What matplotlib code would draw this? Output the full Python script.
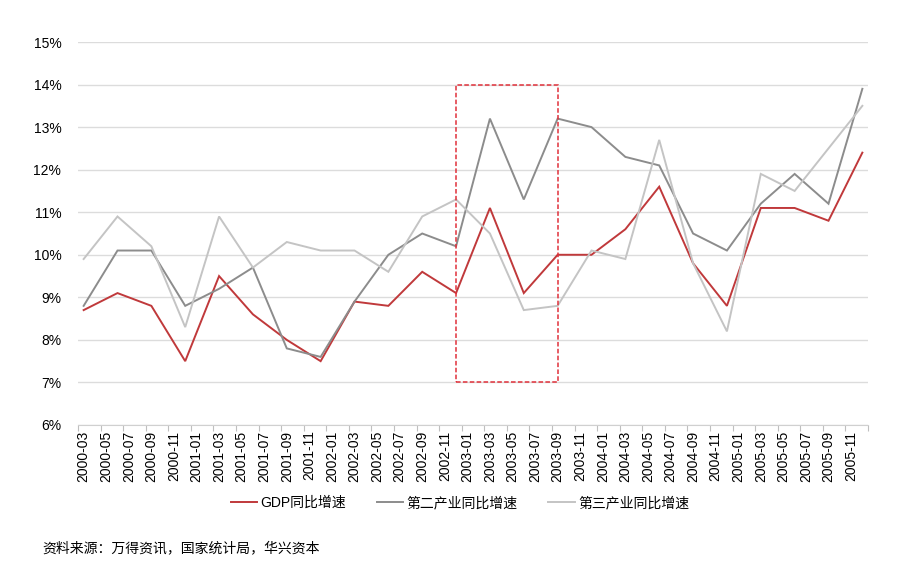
import numpy as np
import pandas as pd
import matplotlib
matplotlib.use("Agg")
import matplotlib.pyplot as plt
from matplotlib.patches import Rectangle
from matplotlib.ticker import FixedLocator, FuncFormatter

plt.rcParams["font.family"] = ["Liberation Sans", "Noto Sans CJK SC", "DejaVu Sans"]
plt.rcParams["axes.unicode_minus"] = False

#########################################################################################
# 데이터 (분기별, %)
#########################################################################################
quarters = ["2000-03", "2000-06", "2000-09", "2000-12",
            "2001-03", "2001-06", "2001-09", "2001-12",
            "2002-03", "2002-06", "2002-09", "2002-12",
            "2003-03", "2003-06", "2003-09", "2003-12",
            "2004-03", "2004-06", "2004-09", "2004-12",
            "2005-03", "2005-06", "2005-09", "2005-12"]

gdp = [8.7, 9.1, 8.8, 7.5, 9.5, 8.6, 8.0, 7.5, 8.9, 8.8, 9.6, 9.1,
       11.1, 9.1, 10.0, 10.0, 10.6, 11.6, 9.8, 8.8, 11.1, 11.1, 10.8, 12.4]
ind2 = [8.8, 10.1, 10.1, 8.8, 9.2, 9.7, 7.8, 7.6, 8.9, 10.0, 10.5, 10.2,
        13.2, 11.3, 13.2, 13.0, 12.3, 12.1, 10.5, 10.1, 11.2, 11.9, 11.2, 13.9]
ind3 = [9.9, 10.9, 10.2, 8.3, 10.9, 9.7, 10.3, 10.1, 10.1, 9.6, 10.9, 11.3,
        10.5, 8.7, 8.8, 10.1, 9.9, 12.7, 9.8, 8.2, 11.9, 11.5, 12.5, 13.5]

series_names = ["GDP同比增速", "第二产业同比增速", "第三产业同比增速"]
series_colors = ["#C0393B", "#8C8C8C", "#C4C4C4"]

# 강조 구간 (2002-12 ~ 2003-09, 7% ~ 14%)
box_start, box_end = "2002-12", "2003-09"
box_low, box_high = 7, 14

source_text = "资料来源：万得资讯，国家统计局，华兴资本"

#########################################################################################
# x축: 월 단위 카테고리 (2000-03 ~ 2005-12)
#########################################################################################
start = pd.Period("2000-03", freq="M")
n_months = (pd.Period("2005-12", freq="M") - start).n + 1
tick_labels = [str(p) for p in pd.period_range("2000-03", "2005-11", freq="2M")]


def month_pos(s):
    return (pd.Period(s, freq="M") - start).n + 0.5


x = np.array([month_pos(q) for q in quarters])

fig = plt.figure(figsize=(9.16, 5.67), dpi=100)
ax = fig.add_axes([78 / 916, 1 - 425 / 567, 790 / 916, 383 / 567])

for vals, name, col in zip([gdp, ind2, ind3], series_names, series_colors):
    ax.plot(x, vals, color=col, linewidth=1.4, label=name, solid_joinstyle="miter")

ax.add_patch(Rectangle((month_pos(box_start), box_low),
                       month_pos(box_end) - month_pos(box_start), box_high - box_low,
                       fill=False, edgecolor="#E0303A", linestyle=(0, (3, 1.5)),
                       linewidth=1.1, zorder=5))

ax.set_xlim(0, n_months)
ax.set_ylim(6, 15)
ax.set_yticks(np.arange(6, 16, 1))
ax.yaxis.set_major_formatter(FuncFormatter(lambda v, p: f"{v:.0f}%"))
ax.grid(axis="y", color="#DCDCDC", linewidth=1.0)
ax.set_axisbelow(True)

ax.xaxis.set_major_locator(FixedLocator([month_pos(t) for t in tick_labels]))
ax.set_xticklabels(tick_labels, rotation=90)
ax.xaxis.set_minor_locator(FixedLocator(np.arange(0, n_months + 1, 2)))
ax.tick_params(axis="x", which="major", length=0, pad=4, labelsize=10)
ax.tick_params(axis="x", which="minor", length=4, color="#BFBFBF", width=0.8)
ax.tick_params(axis="y", length=0, pad=12, labelsize=10)

for sp in ["top", "right", "left"]:
    ax.spines[sp].set_visible(False)
ax.spines["bottom"].set_color("#D0D0D0")

fig.legend(loc="center", bbox_to_anchor=(460 / 916, 1 - 503 / 567), ncol=3,
           frameon=False, fontsize=10, handlelength=1.9, columnspacing=2.2,
           handletextpad=0.25)

fig.text(42 / 916, 1 - 548 / 567, source_text, fontsize=10, va="center", ha="left")

fig.savefig("out.png", dpi=100)
